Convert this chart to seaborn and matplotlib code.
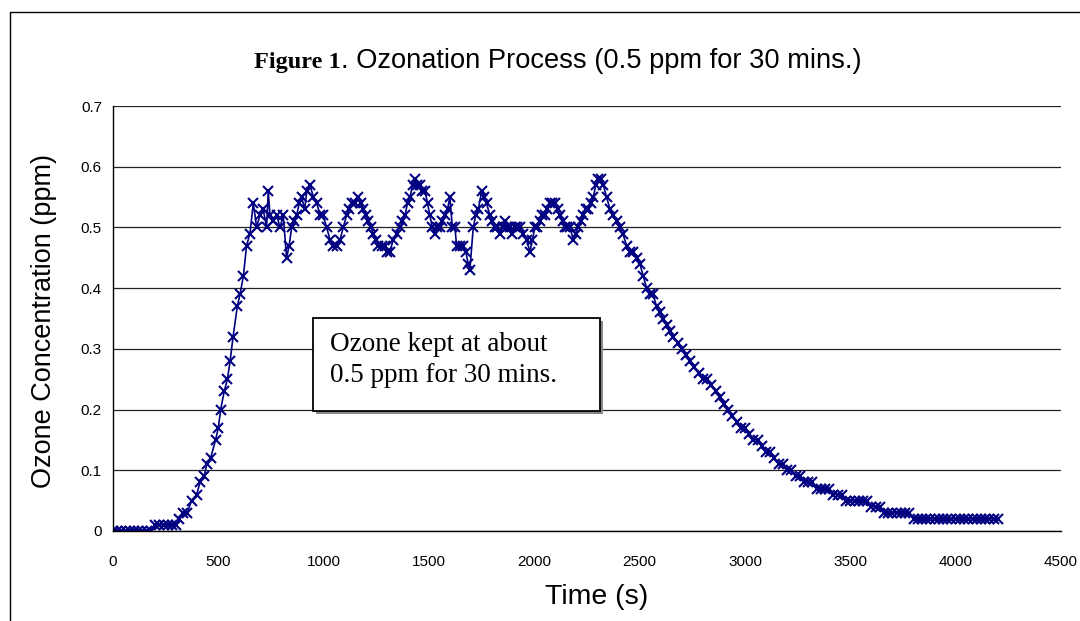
import matplotlib
matplotlib.use("Agg")
import matplotlib.pyplot as plt
import seaborn as sns
import pandas as pd
from matplotlib import font_manager
from matplotlib.patches import Rectangle

# ---- data ----
time_rise = [0, 20, 40, 60, 80, 100, 120, 140, 160, 180, 200, 220, 240, 260, 280, 300,
             315, 334, 353, 373, 397, 413, 433, 445, 463, 487, 500, 511, 528, 543, 556, 570,
             590, 603, 619, 634, 650, 666, 682, 697, 713, 729, 737, 745, 761, 777, 793, 808,
             824, 836, 848, 860, 872, 884, 895, 910, 920, 935, 951, 967, 983, 998, 1014, 1030,
             1046, 1062, 1078, 1093, 1109, 1121, 1133, 1149, 1164, 1176, 1188, 1200, 1212, 1224,
             1236, 1248, 1259, 1275, 1291, 1303, 1315, 1330, 1346, 1362, 1374, 1386, 1398, 1410,
             1422, 1433, 1445, 1457, 1469, 1481, 1493, 1504, 1516, 1528, 1540, 1552, 1564, 1576,
             1588, 1599, 1611, 1623, 1631, 1647, 1663, 1675, 1686, 1694, 1710, 1722, 1734, 1750,
             1762, 1773, 1789, 1801, 1813, 1825, 1837, 1849, 1860, 1872, 1884, 1896, 1908, 1920,
             1932, 1948, 1963, 1979, 1991, 2003, 2015, 2027, 2038, 2050, 2062, 2074, 2086, 2098,
             2110, 2122, 2134, 2145, 2157, 2169, 2185, 2197, 2208, 2220, 2232, 2244, 2256, 2268,
             2280, 2292, 2303, 2315, 2327, 2343, 2359, 2375, 2391, 2405, 2420, 2438, 2454, 2470,
             2485, 2501, 2517, 2533, 2549, 2564, 2580, 2596, 2612, 2628, 2644, 2660]
ozone_rise = [0.00, 0.00, 0.00, 0.00, 0.00, 0.00, 0.00, 0.00, 0.00, 0.00, 0.01, 0.01, 0.01, 0.01, 0.01, 0.01,
              0.02, 0.03, 0.03, 0.05, 0.06, 0.08, 0.09, 0.11, 0.12, 0.15, 0.17, 0.20, 0.23, 0.25, 0.28, 0.32,
              0.37, 0.39, 0.42, 0.47, 0.49, 0.54, 0.50, 0.52, 0.53, 0.50, 0.56, 0.52, 0.51, 0.52, 0.50, 0.52,
              0.45, 0.47, 0.50, 0.51, 0.52, 0.54, 0.55, 0.53, 0.56, 0.57, 0.55, 0.54, 0.52, 0.52, 0.50, 0.48,
              0.47, 0.47, 0.48, 0.50, 0.52, 0.53, 0.54, 0.54, 0.55, 0.54, 0.53, 0.52, 0.51, 0.50,
              0.49, 0.48, 0.47, 0.47, 0.47, 0.46, 0.46, 0.48, 0.49, 0.50, 0.51, 0.52, 0.54, 0.55,
              0.57, 0.58, 0.57, 0.57, 0.56, 0.56, 0.54, 0.52, 0.50, 0.49, 0.50, 0.50, 0.51, 0.52,
              0.53, 0.55, 0.50, 0.50, 0.47, 0.47, 0.47, 0.46, 0.44, 0.43, 0.50, 0.52, 0.53, 0.56,
              0.55, 0.54, 0.52, 0.51, 0.50, 0.50, 0.49, 0.50, 0.51, 0.50, 0.50, 0.49, 0.50, 0.50,
              0.50, 0.49, 0.48, 0.46, 0.48, 0.50, 0.50, 0.51, 0.52, 0.52, 0.53, 0.54, 0.54, 0.54,
              0.53, 0.52, 0.51, 0.50, 0.50, 0.50, 0.48, 0.49, 0.50, 0.51, 0.52, 0.53, 0.53, 0.54,
              0.55, 0.57, 0.58, 0.58, 0.57, 0.55, 0.53, 0.52, 0.51, 0.50, 0.49, 0.47, 0.46, 0.46,
              0.45, 0.44, 0.42, 0.40, 0.39, 0.39, 0.37, 0.36, 0.35, 0.34, 0.33, 0.32]

time_decay = [2680, 2700, 2720, 2740, 2760, 2780, 2800, 2820, 2840, 2860, 2880, 2900, 2920, 2940,
              2960, 2980, 3000, 3020, 3040, 3060, 3080, 3100, 3120, 3140, 3160, 3180, 3200, 3220,
              3240, 3260, 3280, 3300, 3320, 3340, 3360, 3380, 3400, 3420, 3440, 3460, 3480, 3500,
              3520, 3540, 3560, 3580, 3600, 3620, 3640, 3660, 3680, 3700, 3720, 3740, 3760, 3780,
              3800, 3820, 3840, 3860, 3880, 3900, 3920, 3940, 3960, 3980, 4000, 4020, 4040, 4060,
              4080, 4100, 4120, 4140, 4160, 4180, 4200]
ozone_decay = [0.31, 0.30, 0.29, 0.28, 0.27, 0.26, 0.25, 0.25, 0.24, 0.23, 0.22, 0.21, 0.20, 0.19,
               0.18, 0.17, 0.17, 0.16, 0.15, 0.15, 0.14, 0.13, 0.13, 0.12, 0.11, 0.11, 0.10, 0.10,
               0.09, 0.09, 0.08, 0.08, 0.08, 0.07, 0.07, 0.07, 0.07, 0.06, 0.06, 0.06, 0.05, 0.05,
               0.05, 0.05, 0.05, 0.05, 0.04, 0.04, 0.04, 0.03, 0.03, 0.03, 0.03, 0.03, 0.03, 0.03,
               0.02, 0.02, 0.02, 0.02, 0.02, 0.02, 0.02, 0.02, 0.02, 0.02, 0.02, 0.02, 0.02, 0.02,
               0.02, 0.02, 0.02, 0.02, 0.02, 0.02, 0.02]

x_ticks = [0, 500, 1000, 1500, 2000, 2500, 3000, 3500, 4000, 4500]
x_tick_labels = ["0", "500", "1000", "1500", "2000", "2500", "3000", "3500", "4000", "4500"]
y_ticks = [0, 0.1, 0.2, 0.3, 0.4, 0.5, 0.6, 0.7]
y_tick_labels = ["0", "0.1", "0.2", "0.3", "0.4", "0.5", "0.6", "0.7"]

title_bold = "Figure 1"
title_rest = ". Ozonation Process (0.5 ppm for 30 mins.)"
x_label = "Time (s)"
y_label = "Ozone Concentration (ppm)"
note_text = "Ozone kept at about\n0.5 ppm for 30 mins."

df = pd.DataFrame({"time": time_rise + time_decay, "ozone": ozone_rise + ozone_decay})

# ---- style ----
sns.set_theme(style="white")
names = {f.name for f in font_manager.fontManager.ttflist}
if "Liberation Sans Narrow" in names:
    sans = "Liberation Sans Narrow"
    k = 1.0 / 0.82
else:
    sans = "Liberation Sans"
    k = 1.0
plt.rcParams["font.family"] = [sans, "DejaVu Sans"]
plt.rcParams["text.color"] = "black"

W, H = 1080, 621
fig = plt.figure(figsize=(W / 100, H / 100), dpi=100)
fig.patch.set_facecolor("white")

x0, x1, y0, y1 = 113, 1061, 531, 106
ax = fig.add_axes([x0 / W, 1 - y0 / H, (x1 - x0) / W, (y0 - y1) / H])
ax.set_facecolor("white")

navy = "#000080"
sns.lineplot(data=df, x="time", y="ozone", ax=ax, estimator=None, sort=False,
             color=navy, linewidth=1.2, marker="x", markersize=7.5,
             markeredgewidth=1.5, markeredgecolor=navy)

ax.set_xlim(0, 4500)
ax.set_ylim(0, 0.7)
ax.set_xticks(x_ticks)
ax.set_xticklabels(x_tick_labels)
ax.set_yticks(y_ticks)
ax.set_yticklabels(y_tick_labels)
ax.set_xlabel("")
ax.set_ylabel("")
ax.yaxis.grid(True, color="#222222", linewidth=0.9)
ax.xaxis.grid(False)
ax.set_axisbelow(True)
for s in ["top", "right"]:
    ax.spines[s].set_visible(False)
for s in ["left", "bottom"]:
    ax.spines[s].set_color("black")
    ax.spines[s].set_linewidth(1.0)
ax.tick_params(axis="x", direction="in", length=4, width=0.8, color="black",
               labelsize=11 * k, pad=17, labelcolor="black")
ax.tick_params(axis="y", direction="out", length=4, width=0.8, color="black",
               labelsize=11 * k, pad=4, labelcolor="black")

# title (two fonts)
fig.text(341 / W, 1 - 68 / H, title_bold, ha="right", va="baseline", color="black",
         family=["Liberation Serif", "DejaVu Serif"], weight="bold", fontsize=17.5)
fig.text(341 / W, 1 - 68 / H, title_rest, ha="left", va="baseline", color="black",
         family=[sans, "DejaVu Sans"], fontsize=19.6 * k)

# axis labels
fig.text(597 / W, 1 - 597 / H, x_label, ha="center", va="center", fontsize=20.5 * k,
         color="black")
fig.text(44 / W, 1 - 321 / H, y_label, ha="center", va="center", rotation=90,
         fontsize=19.5 * k, color="black")

# annotation box with shadow
bx0, bx1, by0, by1 = 313, 600, 318, 411
fig.add_artist(Rectangle(((bx0 + 3) / W, 1 - (by1 + 3) / H), (bx1 - bx0) / W, (by1 - by0) / H,
                         transform=fig.transFigure, facecolor="#888888", edgecolor="none"))
fig.add_artist(Rectangle((bx0 / W, 1 - by1 / H), (bx1 - bx0) / W, (by1 - by0) / H,
                         transform=fig.transFigure, facecolor="white", edgecolor="black",
                         linewidth=1.3))
fig.text(330 / W, 1 - 360 / H, note_text, ha="left", va="center", linespacing=1.3,
         family=["Liberation Serif", "DejaVu Serif"], fontsize=19.5, color="black")

# outer chart frame
fig.add_artist(Rectangle((10 / W, -0.1), 1.2, 1.1 - 12 / H, transform=fig.transFigure,
                         facecolor="none", edgecolor="black", linewidth=1.0))

fig.savefig("out.png", dpi=100)
